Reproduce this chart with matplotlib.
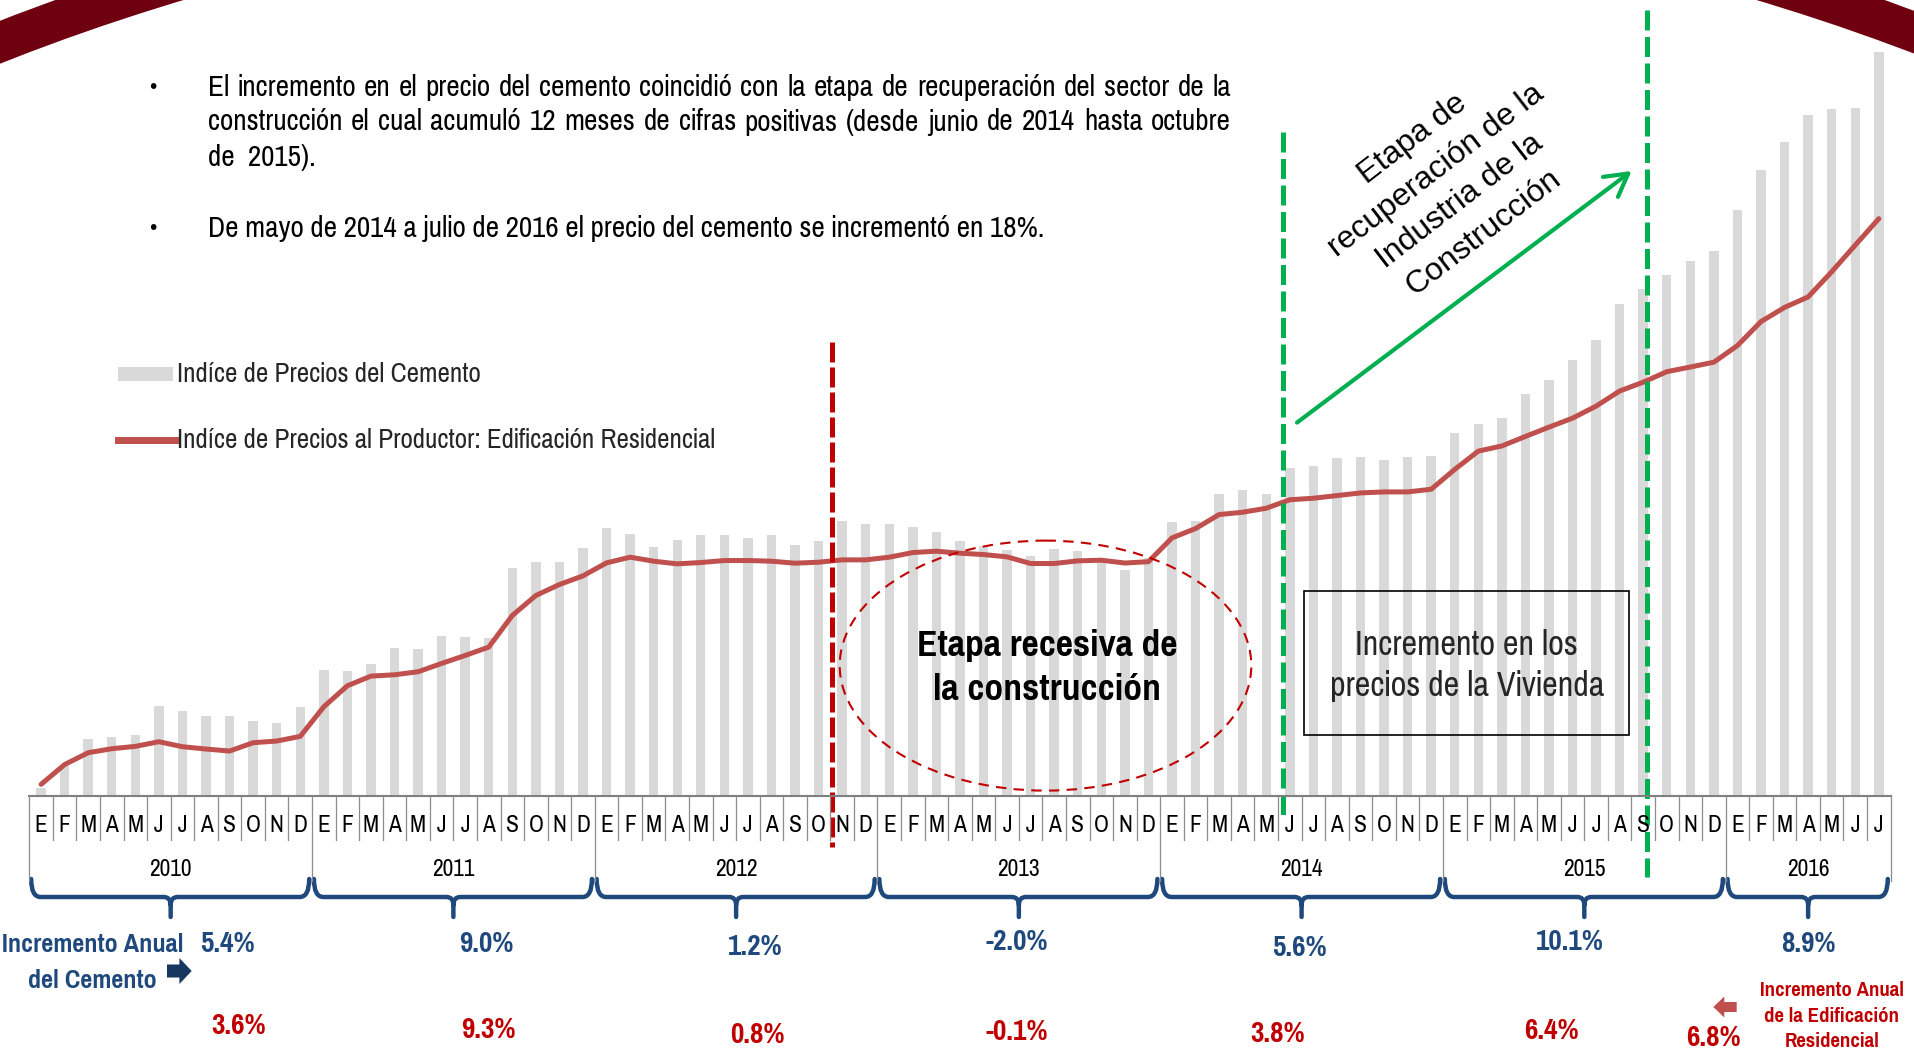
import matplotlib
matplotlib.use('Agg')
import matplotlib.pyplot as plt
import numpy as np
from matplotlib import font_manager
from matplotlib.patches import Ellipse, Rectangle, FancyArrowPatch, FancyArrow, PathPatch
from matplotlib.path import Path
from matplotlib.transforms import blended_transform_factory

# ---------------- datos ----------------
anios = [2010, 2011, 2012, 2013, 2014, 2015, 2016]
meses_por_anio = [12, 12, 12, 12, 12, 12, 7]
meses = ['E', 'F', 'M', 'A', 'M', 'J', 'J', 'A', 'S', 'O', 'N', 'D']

# Indice de Precios del Cemento, ene-2010 a jul-2016 (base dic-2009 ~ 100)
cemento = [100.50, 101.80, 103.44, 103.54, 103.66, 105.40, 105.10, 104.80, 104.78, 104.50, 104.38, 105.32,
           107.56, 107.52, 107.92, 108.86, 108.82, 109.58, 109.56, 109.48, 113.72, 114.04, 114.08, 114.90,
           116.10, 115.76, 114.98, 115.38, 115.68, 115.68, 115.52, 115.66, 115.06, 115.34, 116.54, 116.32,
           116.32, 116.14, 115.88, 115.30, 115.04, 114.76, 114.40, 114.84, 114.74, 114.26, 113.60, 114.30,
           116.44, 116.54, 118.14, 118.40, 118.14, 119.71, 119.83, 120.27, 120.33, 120.18, 120.33, 120.40,
           121.78, 122.31, 122.68, 124.16, 124.98, 126.17, 127.40, 129.53, 130.44, 131.28, 132.14, 132.70,
           135.21, 137.60, 139.29, 140.89, 141.27, 141.30, 144.65]

# Indice de Precios al Productor: Edificacion Residencial
edificacion = [100.70, 101.89, 102.60, 102.84, 102.98, 103.26, 102.96, 102.82, 102.70, 103.20, 103.30, 103.58,
               105.36, 106.62, 107.20, 107.28, 107.46, 107.96, 108.44, 108.94, 110.84, 112.04, 112.70, 113.22,
               114.00, 114.34, 114.10, 113.94, 114.02, 114.14, 114.14, 114.10, 113.98, 114.04, 114.18, 114.18,
               114.34, 114.62, 114.70, 114.58, 114.50, 114.36, 113.96, 113.96, 114.12, 114.16, 113.99, 114.07,
               115.50, 116.06, 116.90, 117.04, 117.28, 117.79, 117.88, 118.04, 118.20, 118.26, 118.26, 118.42,
               119.61, 120.71, 121.02, 121.59, 122.15, 122.69, 123.41, 124.32, 124.85, 125.48, 125.76, 126.05,
               127.05, 128.49, 129.34, 129.97, 131.48, 133.08, 134.67]

inc_cemento = ['5.4%', '9.0%', '1.2%', '-2.0%', '5.6%', '10.1%', '8.9%']
inc_edificacion = ['3.6%', '9.3%', '0.8%', '-0.1%', '3.8%', '6.4%', '6.8%']

texto_1 = ["El incremento en el precio del cemento coincidió con la etapa de recuperación del sector de la",
           "construcción el cual acumuló 12 meses de cifras positivas (desde junio de 2014 hasta octubre",
           "de  2015)."]
texto_2 = "De mayo de 2014 a julio de 2016 el precio del cemento se incrementó en 18%."

# ---------------- estilo ----------------
GRIS = '#D9D9D9'
ROJO_LINEA = '#C0504D'
ROJO = '#C00000'
VERDE = '#00B050'
AZUL = '#1F497D'

_nombres = {f.name for f in font_manager.fontManager.ttflist}
NARROW = next((f for f in ['Pragati Narrow', 'Archivo Narrow', 'Roboto Condensed']
               if f in _nombres), 'Liberation Sans')
plt.rcParams['font.family'] = 'Liberation Sans'

W, H = 1915, 1051
X0, X1, YB = 29.3, 1890.6, 796

fig = plt.figure(figsize=(W / 100, H / 100), dpi=100)
renderer = fig.canvas.get_renderer()

ax = fig.add_axes([X0 / W, (H - YB) / H, (X1 - X0) / W, YB / H])
n = len(cemento)
x = np.arange(n)
ax.bar(x, cemento, width=0.4, color=GRIS, zorder=1)
ax.plot(x, edificacion, color=ROJO_LINEA, lw=3.6, solid_capstyle='round',
        solid_joinstyle='round', zorder=2)
ax.set_xlim(-0.5, n - 0.5)
ax.set_ylim(100, 147.8)
ax.axis('off')

# capa de anotaciones en pixeles
ov = fig.add_axes([0, 0, 1, 1], zorder=5)
ov.set_xlim(0, W)
ov.set_ylim(H, 0)
ov.axis('off')
tr = blended_transform_factory(ax.transData, ov.transData)


def ancho(s, **kw):
    t = ov.text(0, 0, s, **kw)
    w = t.get_window_extent(renderer).width
    t.remove()
    return w


def ajustar(s, objetivo, **kw):
    return 10 * objetivo / ancho(s, fontsize=10, **kw)


def justificar(linea, x0, x1, y, fs):
    palabras = linea.split()
    anchos = [ancho(p, fontsize=fs, family=NARROW) for p in palabras]
    hueco = (x1 - x0 - sum(anchos)) / (len(palabras) - 1)
    xp = x0
    for p, a in zip(palabras, anchos):
        ov.text(xp, y, p, fontsize=fs, family=NARROW, va='center', ha='left')
        xp += a + hueco


def lineas(xc, ys, textos, **kw):
    for yy, s in zip(ys, textos):
        ov.text(xc, yy, s, ha='center', va='center', **kw)


# marco decorativo superior
ov.add_patch(Ellipse((970, 889), 3480, 2040, fill=False, ec='#6E0010', lw=28.8))

# texto superior
fs_top = ajustar(texto_2, 839, family=NARROW)
justificar(texto_1[0], 207.6, 1231, 87.5, fs_top)
justificar(texto_1[1], 207.6, 1231, 122, fs_top)
ov.text(207.6, 157.5, texto_1[2], fontsize=fs_top, family=NARROW, va='center')
ov.text(207.6, 228, texto_2, fontsize=fs_top, family=NARROW, va='center')
for yb in [87.5, 228]:
    ov.text(152.7, yb, '•', fontsize=15, va='center', ha='center')

# leyenda
ov.add_patch(Rectangle((118, 367), 55, 14, color=GRIS, lw=0))
ov.plot([118, 175], [440, 440], color=ROJO_LINEA, lw=5)
fs_leg = ajustar('Indíce de Precios al Productor: Edificación Residencial', 540, family=NARROW)
ov.text(177.5, 374, 'Indíce de Precios del Cemento', fontsize=fs_leg, family=NARROW,
        va='center', color='#262626')
ov.text(177.5, 440, 'Indíce de Precios al Productor: Edificación Residencial', fontsize=fs_leg,
        family=NARROW, va='center', color='#262626')

# lineas verticales de etapas
ov.plot([33.55, 33.55], [342, 847], transform=tr, color=ROJO, lw=3.6, ls=(0, (4.0, 1.0)))
ov.plot([52.7, 52.7], [132, 818], transform=tr, color=VERDE, lw=3.6, ls=(0, (4.0, 1.3)))
ov.plot([68.18, 68.18], [10, 877], transform=tr, color=VERDE, lw=3.6, ls=(0, (4.0, 1.3)))

# etapa recesiva
ov.add_patch(Ellipse((1045.5, 665.6), 411.6, 250, fill=False, ec=ROJO, lw=1.5, ls=(0, (5, 3.5))))
fs_rec = ajustar('Etapa recesiva de', 259, family=NARROW, weight='bold')
lineas(1047, [645, 690], ['Etapa recesiva de', 'la construcción'], fontsize=fs_rec,
       family=NARROW, weight='bold')

# incremento en vivienda
ov.add_patch(Rectangle((1304.4, 591.1), 324.9, 144.1, fill=False, ec='black', lw=1.2))
fs_viv = ajustar('precios de la Vivienda', 274.8, family=NARROW)
lineas(1466.8, [645, 686], ['Incremento en los', 'precios de la Vivienda'], fontsize=fs_viv,
       family=NARROW, color='#262626')

# recuperacion
ov.add_patch(FancyArrowPatch((1297, 422.6), (1631.6, 171),
                             arrowstyle='->,head_length=0.8,head_width=0.45', mutation_scale=20,
                             color=VERDE, lw=3, shrinkA=0, shrinkB=0))
ov.text(1448, 186, 'Etapa de\nrecuperación de la\nIndustria de la\nConstrucción', fontsize=23,
        rotation=37.6, rotation_mode='anchor', ha='center', va='center',
        multialignment='center', linespacing=1.4)

# eje de meses
ov.plot([-0.5, n - 0.5], [796, 796], transform=tr, color='#7F7F7F', lw=1.5)
inicios = list(np.cumsum([0] + meses_por_anio))
for i in range(n + 1):
    borde = i - 0.5
    largo = 881 if i in inicios else 840
    ov.plot([borde, borde], [796, largo], transform=tr, color='#8C8C8C', lw=0.9)

fs_mes = ajustar('2010', 43, family=NARROW)
for i in range(n):
    ov.text(i, 826, meses[i % 12], transform=tr, fontsize=fs_mes, family=NARROW,
            ha='center', va='center')

for k, a in enumerate(anios):
    ini, fin = inicios[k] - 0.5, inicios[k + 1] - 0.5
    xc = (ini + fin) / 2
    ov.text(xc, 869, str(a), transform=tr, fontsize=fs_mes, family=NARROW,
            ha='center', va='center')
    # llave azul
    a0, a1 = ini + 0.08, fin - 0.12
    r = 0.4
    verts = [(a0, 879), (a0, 897), (a0 + r, 897), (xc - 0.3, 897), (xc, 897), (xc, 905),
             (xc, 917), (xc, 905), (xc, 897), (xc + 0.3, 897), (a1 - r, 897), (a1, 897), (a1, 879)]
    codes = [Path.MOVETO, Path.CURVE3, Path.CURVE3, Path.LINETO, Path.CURVE3, Path.CURVE3,
             Path.LINETO, Path.MOVETO, Path.CURVE3, Path.CURVE3, Path.LINETO, Path.CURVE3, Path.CURVE3]
    ov.add_patch(PathPatch(Path(verts, codes), transform=tr, fill=False, ec=AZUL, lw=3.2,
                           capstyle='round', joinstyle='round'))

# incrementos anuales
fs_pct = ajustar('10.1%', 68.4, family=NARROW, weight='bold')
x_azul = [7.9, 18.9, 30.3, 41.4, 53.4, 64.9, 75.0]
y_azul = [944, 944, 946.5, 941.6, 947.7, 941.6, 944]
x_rojo = [8.4, 19.0, 30.4, 41.4, 52.5, 64.1, 71.0]
y_rojo = [1026, 1029.6, 1034.4, 1032, 1033, 1030.8, 1038]
for k in range(len(anios)):
    ov.text(x_azul[k], y_azul[k], inc_cemento[k], transform=tr, fontsize=fs_pct, family=NARROW,
            weight='bold', color=AZUL, ha='center', va='center')
    ov.text(x_rojo[k], y_rojo[k], inc_edificacion[k], transform=tr, fontsize=fs_pct, family=NARROW,
            weight='bold', color=ROJO, ha='center', va='center')

fs_lab = ajustar('Incremento Anual', 182, family=NARROW, weight='bold')
lineas(92.8, [944, 980.7], ['Incremento Anual', 'del Cemento'], fontsize=fs_lab,
       family=NARROW, weight='bold', color=AZUL)
ov.add_patch(FancyArrow(167, 971, 24.7, 0, width=13, head_width=26, head_length=12.3,
                        length_includes_head=True, color='#17375E', lw=0))

fs_lab2 = ajustar('Incremento Anual', 145, family=NARROW, weight='bold')
lineas(1831.7, [990, 1016, 1041.5], ['Incremento Anual', 'de la Edificación', 'Residencial'],
       fontsize=fs_lab2, family=NARROW, weight='bold', color=ROJO)
ov.add_patch(FancyArrow(1736.7, 1007, -23.4, 0, width=10, head_width=21, head_length=11,
                        length_includes_head=True, color=ROJO_LINEA, lw=0))

fig.savefig('out.png', dpi=100, facecolor='white')
